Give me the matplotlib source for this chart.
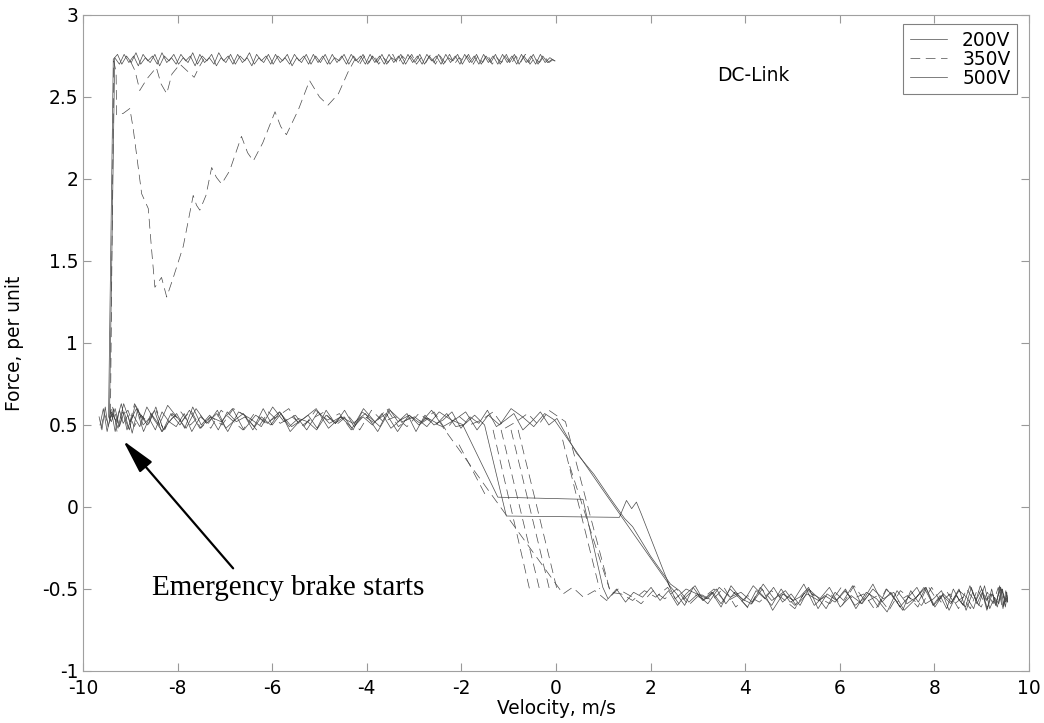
import numpy as np
import matplotlib
matplotlib.use('Agg')
import matplotlib.pyplot as plt

plt.rcParams['font.family'] = ['DejaVu Sans']
plt.rcParams['lines.scale_dashes'] = False

nan = float('nan')

# ---------------- data (velocity m/s, force per unit) ----------------
# 200V : forward run, return run, emergency brake
v200_fwd = [-9.66, -9.60, -9.53, -9.47, -9.39, -9.32, -9.23, -9.15, -9.05, -8.96,
            -8.84, -8.73, -8.60, -8.47, -8.33, -8.18, -8.03, -7.86, -7.70, -7.52,
            -7.35, -7.16, -6.98, -6.79, -6.61, -6.41, -6.23, -6.03, -5.84, -5.64,
            -5.45, -5.25, -5.06, -4.86, -4.66, -4.47, -4.27, -4.08, -3.88, -3.68,
            -3.49, -3.29, -3.10, -2.90, -2.70, -2.51, -2.31, -2.12, -1.97,
            -1.23, 0.57, 0.99,
            1.10, 1.28, 1.47, 1.64, 1.83, 2.01, 2.20, 2.38, 2.57, 2.75,
            2.94, 3.12, 3.31, 3.49, 3.68, 3.86, 4.05, 4.23, 4.42, 4.60,
            4.79, 4.97, 5.16, 5.34, 5.53, 5.71, 5.90, 6.08, 6.27, 6.45,
            6.63, 6.81, 6.99, 7.16, 7.33, 7.50, 7.66, 7.82, 7.97, 8.12,
            8.26, 8.40, 8.53, 8.66, 8.78, 8.90, 9.01, 9.11, 9.21, 9.30,
            9.38, 9.45, 9.51, 9.55]
f200_fwd = [0.55, 0.47, 0.61, 0.49, 0.57, 0.46, 0.59, 0.51, 0.56, 0.45,
            0.60, 0.50, 0.54, 0.47, 0.58, 0.52, 0.49, 0.57, 0.46, 0.55,
            0.51, 0.59, 0.48, 0.53, 0.57, 0.47, 0.55, 0.50, 0.58, 0.49,
            0.54, 0.52, 0.47, 0.56, 0.51, 0.59, 0.49, 0.55, 0.50, 0.57,
            0.48, 0.53, 0.56, 0.50, 0.54, 0.51, 0.57, 0.49, 0.50,
            0.06, 0.047, -0.49,
            -0.56, -0.50, -0.58, -0.52, -0.55, -0.49, -0.57, -0.51, -0.60, -0.53,
            -0.48, -0.57, -0.52, -0.59, -0.50, -0.55, -0.61, -0.51, -0.56, -0.49,
            -0.58, -0.53, -0.60, -0.50, -0.55, -0.62, -0.52, -0.57, -0.48, -0.59,
            -0.53, -0.61, -0.50, -0.56, -0.63, -0.51, -0.58, -0.49, -0.60, -0.54,
            -0.62, -0.50, -0.57, -0.61, -0.49, -0.59, -0.52, -0.63, -0.50, -0.60,
            -0.48, -0.62, -0.51, -0.58]
v200_bwd = [9.53, 9.47, 9.40, 9.31, 9.22, 9.12, 9.00, 8.88, 8.75, 8.61,
            8.46, 8.31, 8.15, 7.98, 7.81, 7.63, 7.45, 7.27, 7.08, 6.89,
            6.70, 6.51, 6.32, 6.12, 5.93, 5.73, 5.54, 5.34, 5.15, 4.95,
            4.76, 4.56, 4.37, 4.17, 3.98, 3.78, 3.59, 3.39, 3.20, 3.00,
            2.81, 2.61, 2.42,
            2.00, 1.62, 1.45, 1.13, 0.80, 0.43, 0.02,
            -0.15, -0.33, -0.52, -0.70, -0.89, -1.07, -1.26, -1.45, -1.63, -1.82,
            -2.01, -2.20, -2.39, -2.58, -2.77, -2.96, -3.15, -3.34, -3.53, -3.72,
            -3.91, -4.10, -4.29, -4.48, -4.67, -4.86, -5.05, -5.24, -5.43, -5.62,
            -5.81, -6.00, -6.19, -6.38, -6.57, -6.76, -6.95, -7.14, -7.32, -7.50,
            -7.68, -7.85, -8.02, -8.18, -8.34, -8.49, -8.63, -8.77, -8.90, -9.02,
            -9.13, -9.23, -9.32, -9.40, -9.46]
f200_bwd = [-0.52, -0.60, -0.49, -0.58, -0.53, -0.62, -0.50, -0.57, -0.48, -0.60,
            -0.54, -0.63, -0.51, -0.56, -0.59, -0.49, -0.55, -0.61, -0.52, -0.58,
            -0.47, -0.56, -0.60, -0.51, -0.57, -0.53, -0.62, -0.49, -0.55, -0.58,
            -0.50, -0.60, -0.54, -0.48, -0.57, -0.52, -0.59, -0.50, -0.56, -0.53,
            -0.58, -0.51, -0.47,
            -0.30, -0.12, -0.07, 0.06, 0.20, 0.33, 0.54,
            0.50, 0.58, 0.52, 0.47, 0.57, 0.53, 0.49, 0.59, 0.51, 0.55,
            0.48, 0.58, 0.53, 0.50, 0.56, 0.46, 0.57, 0.52, 0.60, 0.49,
            0.54, 0.58, 0.47, 0.55, 0.51, 0.59, 0.48, 0.56, 0.52, 0.46,
            0.57, 0.50, 0.60, 0.49, 0.55, 0.52, 0.58, 0.47, 0.56, 0.50,
            0.61, 0.48, 0.57, 0.52, 0.46, 0.59, 0.50, 0.55, 0.62, 0.47,
            0.58, 0.49, 0.60, 0.52, 0.55]
v200_brk = [-9.36, -9.27, -9.18,
            -9.08, -8.98, -8.88, -8.78, -8.68, -8.58, -8.48, -8.38, -8.28, -8.18,
            -8.08, -7.98, -7.88, -7.78, -7.68, -7.58, -7.48, -7.38, -7.28, -7.18,
            -7.08, -6.98, -6.88, -6.78, -6.68, -6.58, -6.48, -6.38, -6.28, -6.18,
            -6.08, -5.98, -5.88, -5.78, -5.68, -5.58, -5.48, -5.38, -5.28, -5.18,
            -5.08, -4.98, -4.88, -4.78, -4.68, -4.58, -4.48, -4.38, -4.28, -4.18,
            -4.08, -3.98, -3.88, -3.78, -3.68, -3.58, -3.48, -3.38, -3.28, -3.18,
            -3.08, -2.98, -2.88, -2.78, -2.68, -2.58, -2.48, -2.38, -2.28, -2.18,
            -2.08, -1.98, -1.88, -1.78, -1.68, -1.58, -1.48, -1.38, -1.28, -1.18,
            -1.08, -0.98, -0.88, -0.78, -0.68, -0.58, -0.48, -0.38, -0.28, -0.18,
            -0.08, -0.02]
f200_brk = [2.73, 2.76, 2.70,
            2.75, 2.71, 2.77, 2.70, 2.74, 2.71, 2.76, 2.69, 2.75, 2.72,
            2.76, 2.70, 2.74, 2.71, 2.77, 2.70, 2.75, 2.72, 2.76, 2.69,
            2.74, 2.71, 2.76, 2.70, 2.75, 2.72, 2.77, 2.70, 2.74, 2.71,
            2.76, 2.70, 2.75, 2.72, 2.76, 2.69, 2.74, 2.71, 2.76, 2.70,
            2.75, 2.71, 2.76, 2.70, 2.74, 2.72, 2.76, 2.70, 2.75, 2.71,
            2.76, 2.70, 2.75, 2.71, 2.76, 2.70, 2.74, 2.72, 2.76, 2.70,
            2.75, 2.71, 2.76, 2.70, 2.75, 2.71, 2.76, 2.70, 2.74, 2.72,
            2.76, 2.70, 2.75, 2.71, 2.76, 2.70, 2.75, 2.71, 2.76, 2.70,
            2.75, 2.71, 2.76, 2.70, 2.75, 2.71, 2.76, 2.70, 2.75, 2.71,
            2.73, 2.72]

# 500V
v500_fwd = [-9.64, -9.57, -9.49, -9.40, -9.30, -9.19, -9.07, -8.94, -8.80, -8.65,
            -8.49, -8.32, -8.14, -7.95, -7.75, -7.53, -7.31, -7.08, -6.84, -6.60,
            -6.35, -6.10, -5.85, -5.59, -5.33, -5.07, -4.81, -4.55, -4.29, -4.03,
            -3.77, -3.51, -3.25, -2.99, -2.73, -2.47, -2.21, -1.95, -1.72, -1.51,
            -1.05, 1.34, 1.49, 1.60, 1.70, 1.80, 2.26, 2.40,
            2.55, 2.72, 2.90, 3.10, 3.29, 3.49, 3.70, 3.92, 4.14, 4.36,
            4.58, 4.80, 5.02, 5.24, 5.46, 5.68, 5.90, 6.12, 6.34, 6.56,
            6.78, 7.00, 7.21, 7.42, 7.62, 7.82, 8.01, 8.19, 8.36, 8.52,
            8.67, 8.81, 8.94, 9.06, 9.17, 9.27, 9.36, 9.44, 9.50, 9.54]
f500_fwd = [0.50, 0.60, 0.46, 0.58, 0.52, 0.63, 0.47, 0.56, 0.49, 0.61,
            0.53, 0.46, 0.57, 0.50, 0.59, 0.48, 0.55, 0.52, 0.60, 0.47,
            0.56, 0.51, 0.58, 0.49, 0.54, 0.60, 0.48, 0.55, 0.51, 0.57,
            0.46, 0.59, 0.52, 0.55, 0.49, 0.58, 0.53, 0.50, 0.56, 0.50,
            -0.055, -0.063, 0.04, -0.01, 0.03, -0.04, -0.38, -0.48,
            -0.53, -0.60, -0.49, -0.57, -0.52, -0.61, -0.48, -0.56, -0.59, -0.50,
            -0.63, -0.53, -0.57, -0.47, -0.60, -0.54, -0.58, -0.50, -0.62, -0.52,
            -0.56, -0.64, -0.51, -0.59, -0.55, -0.49, -0.61, -0.53, -0.58, -0.50,
            -0.63, -0.52, -0.60, -0.48, -0.62, -0.55, -0.59, -0.50, -0.61, -0.54]
v500_bwd = [9.50, 9.42, 9.33, 9.22, 9.10, 8.97, 8.83, 8.68, 8.52, 8.35,
            8.17, 7.98, 7.78, 7.57, 7.36, 7.14, 6.92, 6.70, 6.47, 6.24,
            6.01, 5.78, 5.55, 5.31, 5.08, 4.85, 4.61, 4.38, 4.15, 3.91,
            3.68, 3.45, 3.21, 2.98, 2.75, 2.52, 2.36,
            1.00, -0.03,
            -0.24, -0.47, -0.71, -0.95, -1.19, -1.43, -1.67, -1.91, -2.15, -2.39,
            -2.63, -2.87, -3.11, -3.35, -3.59, -3.83, -4.07, -4.31, -4.55, -4.79,
            -5.03, -5.27, -5.51, -5.75, -5.99, -6.23, -6.47, -6.71, -6.94, -7.17,
            -7.39, -7.61, -7.82, -8.02, -8.21, -8.39, -8.56, -8.72, -8.87, -9.01,
            -9.14, -9.26, -9.36, -9.44]
f500_bwd = [-0.58, -0.50, -0.61, -0.53, -0.57, -0.48, -0.62, -0.55, -0.51, -0.59,
            -0.54, -0.60, -0.49, -0.57, -0.63, -0.52, -0.56, -0.50, -0.59, -0.54,
            -0.61, -0.49, -0.57, -0.53, -0.60, -0.51, -0.56, -0.47, -0.58, -0.52,
            -0.55, -0.49, -0.59, -0.53, -0.50, -0.56, -0.46,
            0.10, 0.53,
            0.57, 0.49, 0.55, 0.60, 0.50, 0.56, 0.47, 0.58, 0.53, 0.49,
            0.59, 0.51, 0.56, 0.46, 0.57, 0.52, 0.60, 0.48, 0.55, 0.51,
            0.58, 0.47, 0.56, 0.52, 0.61, 0.49, 0.54, 0.58, 0.46, 0.57,
            0.51, 0.60, 0.48, 0.55, 0.62, 0.50, 0.57, 0.46, 0.60, 0.52,
            0.63, 0.48, 0.57, 0.54]
v500_brk = [-9.33, -9.23, -9.13, -9.03, -8.93, -8.83, -8.73, -8.63, -8.53, -8.43,
            -8.33, -8.23, -8.13, -8.03, -7.93, -7.83, -7.73, -7.63, -7.53, -7.43,
            -7.33, -7.23, -7.13, -7.03, -6.93, -6.83, -6.73, -6.63, -6.53, -6.43,
            -6.33, -6.23, -6.13, -6.03, -5.93, -5.83, -5.73, -5.63, -5.53, -5.43,
            -5.33, -5.23, -5.13, -5.03, -4.93, -4.83, -4.73, -4.63, -4.53, -4.43,
            -4.33, -4.23, -4.13, -4.03, -3.93, -3.83, -3.73, -3.63, -3.53, -3.43,
            -3.33, -3.23, -3.13, -3.03, -2.93, -2.83, -2.73, -2.63, -2.53, -2.43,
            -2.33, -2.23, -2.13, -2.03, -1.93, -1.83, -1.73, -1.63, -1.53, -1.43,
            -1.33, -1.23, -1.13, -1.03, -0.93, -0.83, -0.73, -0.63, -0.53, -0.43,
            -0.33, -0.23, -0.13, -0.03]
f500_brk = [2.74, 2.70, 2.76, 2.71, 2.75, 2.69, 2.76, 2.72, 2.75, 2.70,
            2.77, 2.71, 2.74, 2.70, 2.76, 2.72, 2.75, 2.69, 2.76, 2.71,
            2.74, 2.70, 2.77, 2.72, 2.75, 2.70, 2.76, 2.71, 2.74, 2.69,
            2.76, 2.72, 2.75, 2.70, 2.76, 2.71, 2.74, 2.70, 2.76, 2.72,
            2.75, 2.70, 2.76, 2.71, 2.75, 2.70, 2.76, 2.71, 2.75, 2.70,
            2.76, 2.72, 2.75, 2.70, 2.76, 2.71, 2.75, 2.70, 2.76, 2.71,
            2.75, 2.70, 2.76, 2.71, 2.75, 2.70, 2.76, 2.72, 2.75, 2.70,
            2.76, 2.71, 2.75, 2.70, 2.76, 2.71, 2.75, 2.70, 2.76, 2.71,
            2.75, 2.70, 2.76, 2.71, 2.75, 2.70, 2.76, 2.71, 2.75, 2.70,
            2.76, 2.71, 2.74, 2.72]

# 350V
v350_fwd = [-9.62, -9.55, -9.47, -9.38, -9.28, -9.17, -9.05, -8.92, -8.78, -8.63,
            -8.47, -8.30, -8.12, -7.93, -7.73, -7.52, -7.30, -7.08, -6.85, -6.62,
            -6.38, -6.14, -5.90, -5.65, -5.40, -5.15, -4.90, -4.65, -4.40, -4.15,
            -3.90, -3.65, -3.40, -3.15, -2.90, -2.65, -2.40,
            0.15,
            0.35, 0.58, 0.82, 1.07, 1.31, 1.56, 1.80, 2.05, 2.30, 2.55,
            2.80, 3.05, 3.30, 3.55, 3.80, 4.05, 4.30, 4.55, 4.80, 5.05,
            5.30, 5.55, 5.80, 6.05, 6.30, 6.55, 6.80, 7.04, 7.28, 7.51,
            7.73, 7.94, 8.14, 8.33, 8.51, 8.68, 8.84, 8.99, 9.12, 9.24,
            9.35, 9.44, 9.51, 9.55]
f350_fwd = [0.48, 0.57, 0.51, 0.62, 0.46, 0.55, 0.59, 0.49, 0.56, 0.52,
            0.60, 0.47, 0.54, 0.58, 0.50, 0.56, 0.48, 0.59, 0.53, 0.47,
            0.57, 0.51, 0.55, 0.60, 0.49, 0.54, 0.58, 0.50, 0.56, 0.47,
            0.59, 0.52, 0.55, 0.49, 0.57, 0.52, 0.49,
            -0.53,
            -0.49, -0.55, -0.51, -0.57, -0.50, -0.54, -0.59, -0.51, -0.56, -0.50,
            -0.60, -0.53, -0.57, -0.49, -0.61, -0.54, -0.58, -0.51, -0.56, -0.62,
            -0.50, -0.57, -0.53, -0.60, -0.48, -0.58, -0.54, -0.63, -0.51, -0.56,
            -0.60, -0.49, -0.58, -0.53, -0.62, -0.50, -0.57, -0.61, -0.52, -0.59,
            -0.49, -0.62, -0.55, -0.58]
v350_bwd = [9.49, 9.40, 9.30, 9.18, 9.05, 8.91, 8.76, 8.60, 8.43, 8.25,
            8.06, 7.86, 7.65, 7.43, 7.21, 6.98, 6.75, 6.51, 6.27, 6.03,
            5.79, 5.54, 5.30, 5.05, 4.81, 4.56, 4.32, 4.07, 3.83, 3.58,
            3.34, 3.09, 2.85, 2.60, 2.36, 2.11, 1.87, 1.62, 1.38, 1.15,
            0.20,
            0.05, -0.15, -0.37, -0.60, -0.84, -1.08, -1.33, -1.58, -1.83, -2.08,
            -2.33, -2.58, -2.83, -3.08, -3.33, -3.58, -3.83, -4.08, -4.33, -4.58,
            -4.83, -5.08, -5.33, -5.58, -5.83, -6.08, -6.33, -6.58, -6.82, -7.06,
            -7.29, -7.51, -7.72, -7.92, -8.11, -8.29, -8.46, -8.62, -8.77, -8.91,
            -9.04, -9.16, -9.26, -9.35, -9.42]
f350_bwd = [-0.56, -0.49, -0.60, -0.53, -0.58, -0.50, -0.62, -0.55, -0.59, -0.51,
            -0.57, -0.48, -0.61, -0.54, -0.58, -0.50, -0.63, -0.53, -0.56, -0.49,
            -0.59, -0.55, -0.51, -0.60, -0.53, -0.57, -0.49, -0.62, -0.54, -0.58,
            -0.50, -0.56, -0.52, -0.59, -0.49, -0.55, -0.51, -0.57, -0.53, -0.52,
            0.52,
            0.55, 0.59, 0.50, 0.57, 0.52, 0.48, 0.58, 0.53, 0.50, 0.56,
            0.47, 0.58, 0.52, 0.55, 0.49, 0.60, 0.51, 0.56, 0.47, 0.57,
            0.53, 0.59, 0.49, 0.55, 0.51, 0.58, 0.47, 0.56, 0.60, 0.50,
            0.55, 0.48, 0.59, 0.52, 0.57, 0.46, 0.61, 0.50, 0.56, 0.63,
            0.48, 0.58, 0.51, 0.60, 0.54]
v350_brk = [-9.35, -9.30, -9.29, -9.15, -9.01, -8.94, -8.76, -8.62, -8.55, -8.48,
            -8.34, -8.23, -8.09, -7.88, -7.67, -7.60, -7.53, -7.40, -7.28, -7.18,
            -7.07, -6.90, -6.65, -6.52, -6.40, -6.20, -5.94, -5.82, -5.70, -5.45,
            -5.21, -5.00, -4.82, -4.60, -4.40, -4.25,
            -4.15, -4.05, -3.95, -3.85, -3.75, -3.65, -3.55, -3.45, -3.35, -3.25,
            -3.15, -3.05, -2.95, -2.85, -2.75, -2.65, -2.55, -2.45, -2.35, -2.25,
            -2.15, -2.05, -1.95, -1.85, -1.75, -1.65, -1.55, -1.45, -1.35, -1.25,
            -1.15, -1.05, -0.95, -0.85, -0.75, -0.65, -0.55, -0.45, -0.35, -0.25,
            -0.15, -0.05]
f350_brk = [2.72, 2.65, 2.39, 2.40, 2.43, 2.31, 1.91, 1.82, 1.57, 1.34,
            1.40, 1.28, 1.40, 1.59, 1.90, 1.84, 1.81, 1.90, 2.07, 2.01,
            1.97, 2.05, 2.26, 2.16, 2.11, 2.22, 2.41, 2.32, 2.27, 2.42,
            2.60, 2.50, 2.45, 2.52, 2.65, 2.73,
            2.70, 2.75, 2.71, 2.76, 2.70, 2.74, 2.71, 2.76, 2.70, 2.75,
            2.72, 2.76, 2.70, 2.74, 2.71, 2.76, 2.70, 2.75, 2.71, 2.76,
            2.70, 2.74, 2.72, 2.76, 2.70, 2.75, 2.71, 2.76, 2.70, 2.74,
            2.71, 2.76, 2.70, 2.75, 2.71, 2.76, 2.70, 2.74, 2.71, 2.75,
            2.71, 2.73]
# further 350V runs (separate pieces)
v350_more = [-1.33, -0.56, nan, -1.16, -0.35, nan, -0.95, -0.14, nan, -0.80, 0.02, nan,
             0.14, 0.92, nan, 0.29, 1.13, nan, -2.05, -1.45, nan,
             -9.00, -8.90, -8.80, -8.65, -8.45, -8.35, -8.23, -8.12, -7.95, -7.80,
             -7.65, -7.55, -7.45]
f350_more = [0.47, -0.50, nan, 0.47, -0.50, nan, 0.47, -0.50, nan, 0.47, -0.50, nan,
             0.41, -0.50, nan, 0.25, -0.50, nan, 0.38, 0.05, nan,
             2.72, 2.66, 2.54, 2.61, 2.68, 2.58, 2.52, 2.64, 2.70, 2.66,
             2.62, 2.68, 2.73]

series_labels = ['200V', '350V', '500V']
x_ticks = [-10, -8, -6, -4, -2, 0, 2, 4, 6, 8, 10]
y_ticks = [-1, -0.5, 0, 0.5, 1, 1.5, 2, 2.5, 3]


def join(*pairs):
    xs, ys = [], []
    for x, y in pairs:
        n = min(len(x), len(y))
        xs += list(x[:n])
        ys += list(y[:n])
    return np.array(xs), np.array(ys)


v200, f200 = join((v200_fwd, f200_fwd), (v200_bwd, f200_bwd), (v200_brk, f200_brk))
v350, f350 = join((v350_fwd, f350_fwd), (v350_bwd, f350_bwd), (v350_brk, f350_brk))
v500, f500 = join((v500_fwd, f500_fwd), (v500_bwd, f500_bwd), (v500_brk, f500_brk))
v350m, f350m = join((v350_more, f350_more))

# ---------------- figure ----------------
W, H = 1044, 723
fig = plt.figure(figsize=(W / 100, H / 100), dpi=100)
ax = fig.add_axes([83 / W, 52 / H, 946 / W, 656 / H])

lc = '#4a4a4a'
lw = 0.5
dash = (0, (7, 4))
l200, = ax.plot(v200, f200, color=lc, lw=lw, label=series_labels[0])
l350, = ax.plot(v350, f350, color=lc, lw=lw, ls=dash, label=series_labels[1])
l500, = ax.plot(v500, f500, color=lc, lw=lw, label=series_labels[2])
ax.plot(v350m, f350m, color=lc, lw=lw, ls=dash)

ax.set_xlim(-10, 10)
ax.set_ylim(-1, 3)
ax.set_xticks(x_ticks)
ax.set_xticklabels([f'{t:g}' for t in x_ticks])
ax.set_yticks(y_ticks)
ax.set_yticklabels([f'{t:g}' for t in y_ticks])

fs = 13.4
ax.tick_params(direction='in', top=True, right=True, length=6, width=0.8,
               color='#999999', labelsize=fs, labelcolor='black')
ax.tick_params(axis='x', pad=6)
ax.tick_params(axis='y', pad=3.5)
for s in ax.spines.values():
    s.set_color('#a0a0a0')
    s.set_linewidth(0.8)

ax.set_xlabel('Velocity, m/s', fontsize=fs)
ax.set_ylabel('Force, per unit', fontsize=fs)
ax.xaxis.set_label_coords(0.5, -0.043)
ax.yaxis.set_label_coords(-0.0625, 0.5)

leg = ax.legend(handles=[l200, l350, l500], loc='upper right',
                bbox_to_anchor=(0.9873, 0.9863), borderaxespad=0, fontsize=fs,
                handlelength=2.0, handletextpad=0.8, labelspacing=0.0,
                borderpad=0.35, frameon=True, fancybox=False,
                edgecolor='#808080', framealpha=1)
leg.get_frame().set_linewidth(0.8)

ax.text(3.41, 2.634, 'DC-Link', fontsize=fs, va='center', ha='left')

ax.annotate('', xy=(-9.149, 0.404), xytext=(-6.826, -0.374),
            arrowprops=dict(arrowstyle='-|>,head_length=0.84,head_width=0.2',
                            mutation_scale=25, lw=1.6, color='black',
                            shrinkA=0, shrinkB=0))
ax.text(-8.543, -0.537, 'Emergency brake starts', family=['Liberation Serif'],
        fontsize=21, va='baseline', ha='left')

fig.savefig('out.png', dpi=100)
